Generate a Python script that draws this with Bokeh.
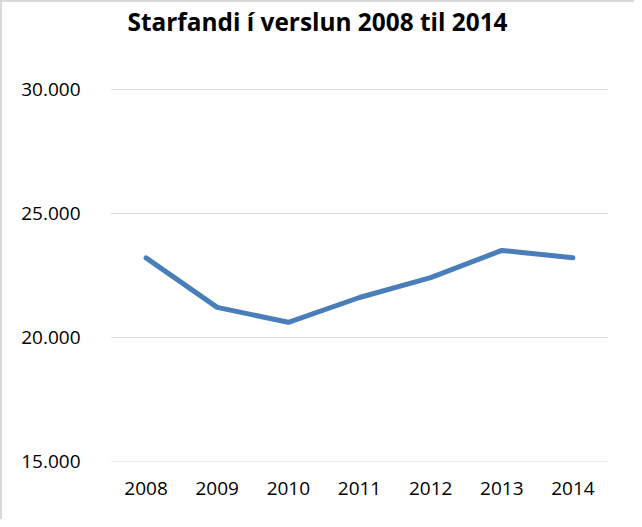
from bokeh.plotting import figure
from bokeh.models import FixedTicker, Label, ColumnDataSource
from bokeh.embed import file_html
from bokeh.resources import INLINE

years = ["2008", "2009", "2010", "2011", "2012", "2013", "2014"]
employed = [23200, 21200, 20600, 21600, 22400, 23500, 23200]
y_ticks = [15000, 20000, 25000, 30000]
y_tick_labels = ["15.000", "20.000", "25.000", "30.000"]
title_text = "Starfandi í verslun 2008 til 2014"

FONT = "Open Sans"

# the plot area reaches the top of the chart; the title sits in its empty upper part
p = figure(
    x_range=years,
    y_range=(14985, 33500),
    width=634,
    height=519,
    output_backend="svg",
    toolbar_location=None,
    min_border_left=108,
    min_border_right=28,
    min_border_top=0,
    min_border_bottom=60,
)
p.styles = {"border-left": "2px solid #d9d9d9", "border-top": "2px solid #d9d9d9",
            "box-sizing": "border-box"}

title = Label(x=2.91, y=32740, text=title_text, text_align="center",
              text_baseline="alphabetic", text_font=FONT, text_font_size="24.4px",
              text_font_style="bold", text_color="#000000")
p.add_layout(title)

src = ColumnDataSource(dict(x=years, y=employed))
p.line("x", "y", source=src, line_color="#4a7ebb", line_width=5,
       line_cap="round", line_join="round")

p.outline_line_color = None
p.background_fill_color = "white"
p.border_fill_color = "white"

p.xgrid.grid_line_color = None
p.ygrid.grid_line_color = "#d9d9d9"
p.ygrid.grid_line_width = 1

p.yaxis.ticker = FixedTicker(ticks=y_ticks)
p.yaxis.major_label_overrides = {t_: l for t_, l in zip(y_ticks, y_tick_labels)}

for ax in (p.xaxis[0], p.yaxis[0]):
    ax.axis_line_color = None
    ax.major_tick_line_color = None
    ax.minor_tick_line_color = None
    ax.major_label_text_font = FONT
    ax.major_label_text_font_size = "19px"
    ax.major_label_text_color = "#000000"

p.yaxis.major_label_standoff = 24
p.xaxis.major_label_standoff = 14

open("out.html", "w").write(file_html(p, INLINE))
